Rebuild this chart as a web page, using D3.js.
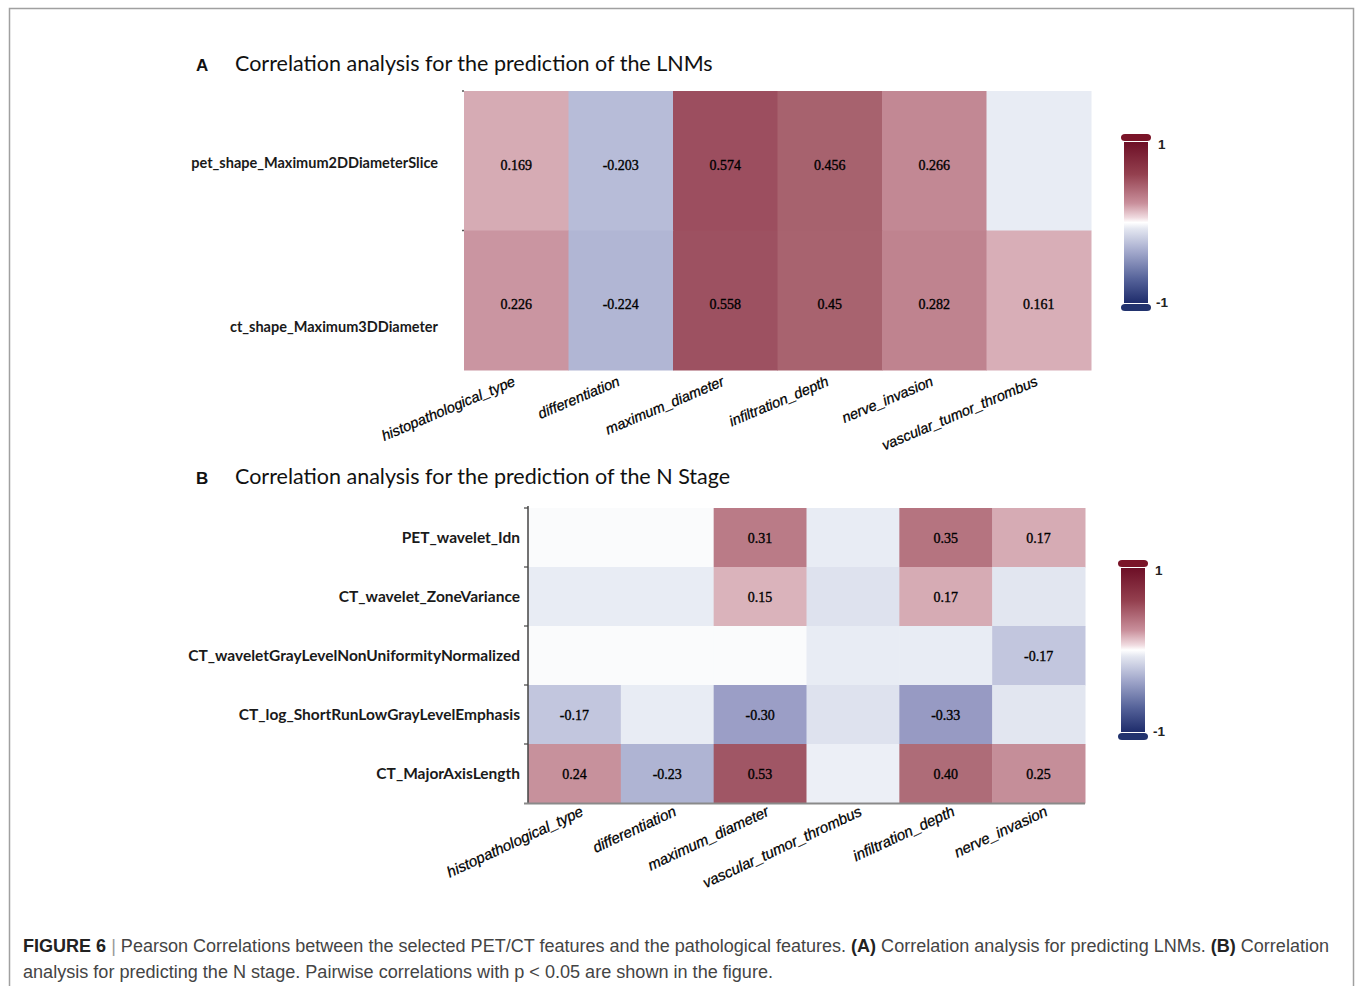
<!DOCTYPE html>
<html>
<head>
<meta charset="utf-8">
<script src="https://cdn.jsdelivr.net/npm/d3@7"></script>
<style>
  html, body { margin: 0; padding: 0; background: #ffffff; }
  svg { display: block; }
</style>
</head>
<body>
<svg id="fig" width="1355" height="986"></svg>
<script>
// ---- Panel A: features vs pathology (LNM prediction) ----
const lnmFeatures = ["pet_shape_Maximum2DDiameterSlice", "ct_shape_Maximum3DDiameter"];
const lnmPathology = ["histopathological_type", "differentiation", "maximum_diameter",
                      "infiltration_depth", "nerve_invasion", "vascular_tumor_thrombus"];
const lnmPetValues = [0.169, -0.203, 0.574, 0.456, 0.266, -0.05];
const lnmPetLabels = ["0.169", "-0.203", "0.574", "0.456", "0.266", ""];
const lnmCtValues = [0.226, -0.224, 0.558, 0.45, 0.282, 0.161];
const lnmCtLabels = ["0.226", "-0.224", "0.558", "0.45", "0.282", "0.161"];

// ---- Panel B: features vs pathology (N stage prediction) ----
const nFeatures = ["PET_wavelet_Idn", "CT_wavelet_ZoneVariance",
                   "CT_waveletGrayLevelNonUniformityNormalized",
                   "CT_log_ShortRunLowGrayLevelEmphasis", "CT_MajorAxisLength"];
const nPathology = ["histopathological_type", "differentiation", "maximum_diameter",
                    "vascular_tumor_thrombus", "infiltration_depth", "nerve_invasion"];
const nIdnValues      = [0.0, 0.0, 0.31, -0.05, 0.35, 0.17];
const nIdnLabels      = ["", "", "0.31", "", "0.35", "0.17"];
const nZoneValues     = [-0.05, -0.05, 0.15, -0.08, 0.17, -0.07];
const nZoneLabels     = ["", "", "0.15", "", "0.17", ""];
const nGlnunValues    = [0.0, 0.0, 0.0, -0.05, -0.05, -0.17];
const nGlnunLabels    = ["", "", "", "", "", "-0.17"];
const nSrlgleValues   = [-0.17, -0.05, -0.30, -0.08, -0.33, -0.07];
const nSrlgleLabels   = ["-0.17", "", "-0.30", "", "-0.33", ""];
const nMajorValues    = [0.24, -0.23, 0.53, -0.04, 0.40, 0.25];
const nMajorLabels    = ["0.24", "-0.23", "0.53", "", "0.40", "0.25"];

const colorbarTicks = ["1", "-1"];

// colour scale for cell fills (muted red / blue diverging)
const cellColor = d3.scaleLinear()
  .domain([-0.35, -0.3, -0.2, -0.1, -0.05, 0, 0.05, 0.15, 0.2, 0.3, 0.45, 0.6])
  .range(["#9597c1", "#9b9ec6", "#b8bdd9", "#d8dcea", "#e8ecf4", "#fafbfc",
          "#f0dfe3", "#dab3bb", "#cf9ea9", "#bb7d89", "#a8636f", "#994a5c"])
  .clamp(true);

const svg = d3.select("#fig");

// figure frame
svg.append("rect")
  .attr("x", 9.5).attr("y", 8.5).attr("width", 1344).attr("height", 990)
  .attr("fill", "none").attr("stroke", "#a0a0a0").attr("stroke-width", 1.5);

// gradient for the colour bars
const defs = svg.append("defs");
const grad = defs.append("linearGradient")
  .attr("id", "corrGrad").attr("x1", 0).attr("y1", 0).attr("x2", 0).attr("y2", 1);
[[0, "#6d0f26"], [0.2, "#94404f"], [0.38, "#c98f9b"], [0.47, "#f0dbe0"], [0.5, "#ffffff"],
 [0.54, "#e3e6f0"], [0.68, "#a3a9cc"], [0.85, "#56639a"], [1, "#1e2c6b"]]
  .forEach(([o, c]) => grad.append("stop").attr("offset", o).attr("stop-color", c));

function drawColorbar(x, yTop, yBottom) {
  const g = svg.append("g");
  const capH = 8, w = 24;
  g.append("rect").attr("x", x).attr("y", yTop + capH).attr("width", w)
    .attr("height", yBottom - yTop - 2 * capH).attr("fill", "url(#corrGrad)");
  g.append("rect").attr("x", x - 3).attr("y", yTop).attr("width", w + 6).attr("height", capH - 1)
    .attr("rx", 4).attr("fill", "#7a1428");
  g.append("rect").attr("x", x - 3).attr("y", yBottom - capH + 1).attr("width", w + 6).attr("height", capH - 1)
    .attr("rx", 4).attr("fill", "#22336e");
  const tickY = d3.scalePoint().domain(colorbarTicks).range([yTop + 15, yBottom - 4]);
  g.selectAll("text.cb").data(colorbarTicks).join("text")
    .attr("class", "cb")
    .attr("x", d => d === "1" ? x + w + 10 : x + w + 8)
    .attr("y", d => tickY(d))
    .attr("font-family", "Liberation Sans, Arial, sans-serif")
    .attr("font-weight", "bold").attr("font-size", 13.5).attr("fill", "#222")
    .text(d => d);
}

function drawTitle(letter, title, y) {
  svg.append("text").attr("x", 196).attr("y", y)
    .attr("font-family", "Liberation Sans, Arial, sans-serif").attr("font-weight", "bold")
    .attr("font-size", 17).attr("fill", "#111").text(letter);
  svg.append("text").attr("x", 235).attr("y", y)
    .attr("font-family", "Lato, sans-serif").attr("font-size", 21.5).attr("fill", "#111")
    .text(title);
}

function drawHeatmap(opts) {
  const { cols, rows, values, labels, xRange, yRange, rowLabelX, rowLabelY,
          rowFont, valueDy, colLabelDx, colLabelDy, colFont, angle } = opts;
  const x = d3.scaleBand().domain(cols).range(xRange);
  const y = d3.scaleBand().domain(rows).range(yRange);
  const cells = [];
  rows.forEach((r, i) => cols.forEach((c, j) =>
    cells.push({ r, c, v: values[i][j], label: labels[i][j] })));
  const g = svg.append("g");
  g.selectAll("rect.cell").data(cells).join("rect")
    .attr("class", "cell")
    .attr("x", d => x(d.c)).attr("y", d => y(d.r))
    .attr("width", x.bandwidth() + 0.5).attr("height", y.bandwidth() + 0.5)
    .attr("fill", d => cellColor(d.v));
  g.selectAll("text.val").data(cells.filter(d => d.label !== "")).join("text")
    .attr("class", "val")
    .attr("x", d => x(d.c) + x.bandwidth() / 2)
    .attr("y", d => y(d.r) + y.bandwidth() / 2 + valueDy)
    .attr("text-anchor", "middle")
    .attr("font-family", "Liberation Serif, Times New Roman, serif")
    .attr("font-size", 14).attr("fill", "#000")
    .attr("stroke", "#000").attr("stroke-width", 0.35)
    .text(d => d.label);
  // row labels
  const ly = rowLabelY || (r => y(r) + y.bandwidth() / 2 + 5);
  g.selectAll("text.row").data(rows).join("text")
    .attr("class", "row")
    .attr("x", rowLabelX).attr("y", ly)
    .attr("text-anchor", "end")
    .attr("font-family", "Lato, sans-serif").attr("font-weight", "bold")
    .attr("font-size", rowFont).attr("fill", "#1a1a1a")
    .text(d => d);
  // column labels, rotated
  const bottom = yRange[1];
  g.selectAll("text.col").data(cols).join("text")
    .attr("class", "col")
    .attr("transform", d => `translate(${x(d) + x.bandwidth() / 2 + colLabelDx},${bottom + colLabelDy}) rotate(${angle})`)
    .attr("text-anchor", "end")
    .attr("font-family", "Liberation Sans, Arial, sans-serif")
    .attr("font-style", "italic")
    .attr("font-size", colFont).attr("fill", "#000")
    .attr("stroke", "#000").attr("stroke-width", 0.25)
    .text(d => d);
  return { x, y, g };
}

// ---- Panel A ----
drawTitle("A", "Correlation analysis for the prediction of the LNMs", 71);
const aLabelY = d3.scalePoint().domain(lnmFeatures).range([168, 332]);
const panelA = drawHeatmap({
  cols: lnmPathology, rows: lnmFeatures,
  values: [lnmPetValues, lnmCtValues], labels: [lnmPetLabels, lnmCtLabels],
  xRange: [464, 1091], yRange: [91, 370],
  rowLabelX: 438, rowLabelY: d => aLabelY(d), rowFont: 14.5, valueDy: 9,
  colLabelDx: 0, colLabelDy: 15, colFont: 14.5, angle: -23
});
// tiny tick marks on the left edge of panel A
panelA.g.selectAll("line.tk").data(lnmFeatures).join("line")
  .attr("x1", 462).attr("x2", 464)
  .attr("y1", d => panelA.y(d)).attr("y2", d => panelA.y(d))
  .attr("stroke", "#555").attr("stroke-width", 1.5);
drawColorbar(1124, 134, 311);

// ---- Panel B ----
drawTitle("B", "Correlation analysis for the prediction of the N Stage", 484);
const panelB = drawHeatmap({
  cols: nPathology, rows: nFeatures,
  values: [nIdnValues, nZoneValues, nGlnunValues, nSrlgleValues, nMajorValues],
  labels: [nIdnLabels, nZoneLabels, nGlnunLabels, nSrlgleLabels, nMajorLabels],
  xRange: [528, 1085], yRange: [508, 803],
  rowLabelX: 520, rowFont: 15.5, valueDy: 5,
  colLabelDx: 10, colLabelDy: 12, colFont: 15, angle: -25
});
// axis lines of panel B
const bAxis = svg.append("g");
bAxis.append("line").attr("x1", 528).attr("x2", 528).attr("y1", 506).attr("y2", 803)
  .attr("stroke", "#444").attr("stroke-width", 1.5);
bAxis.selectAll("line.tk").data(nFeatures).join("line")
  .attr("x1", 524).attr("x2", 528)
  .attr("y1", d => panelB.y(d)).attr("y2", d => panelB.y(d))
  .attr("stroke", "#444").attr("stroke-width", 1.2);
bAxis.append("line").attr("x1", 524).attr("x2", 1085).attr("y1", 803.5).attr("y2", 803.5)
  .attr("stroke", "#8a8a8a").attr("stroke-width", 2);
drawColorbar(1121, 560, 740);

// ---- Caption ----
const cap = svg.append("g")
  .attr("font-family", "Liberation Sans, Arial, sans-serif").attr("font-size", 17.5)
  .attr("fill", "#444");
const line1 = cap.append("text").attr("x", 23).attr("y", 952).attr("textLength", 1306)
  .attr("lengthAdjust", "spacingAndGlyphs");
line1.append("tspan").attr("font-weight", "bold").attr("fill", "#222").text("FIGURE 6");
line1.append("tspan").attr("fill", "#999").text(" | ");
line1.append("tspan").text("Pearson Correlations between the selected PET/CT features and the pathological features. ");
line1.append("tspan").attr("font-weight", "bold").attr("fill", "#222").text("(A)");
line1.append("tspan").text(" Correlation analysis for predicting LNMs. ");
line1.append("tspan").attr("font-weight", "bold").attr("fill", "#222").text("(B)");
line1.append("tspan").text(" Correlation");
cap.append("text").attr("x", 23).attr("y", 978).attr("textLength", 750)
  .attr("lengthAdjust", "spacingAndGlyphs")
  .text("analysis for predicting the N stage. Pairwise correlations with p < 0.05 are shown in the figure.");
</script>
</body>
</html>
